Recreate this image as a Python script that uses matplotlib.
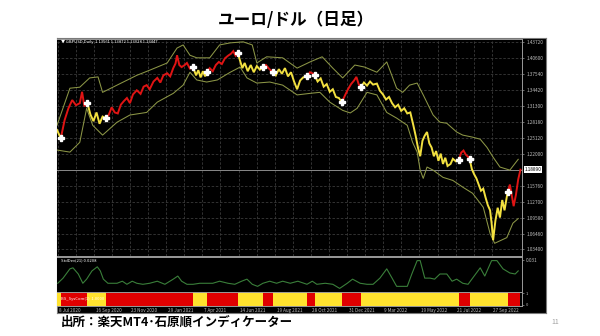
import matplotlib
matplotlib.use('Agg')
import matplotlib.pyplot as plt
import matplotlib.transforms as mtransforms

# ---------------- data ----------------
title = 'ユーロ/ドル（日足）'
source = '出所：楽天MT4･石原順インディケーター'
page_no = '11'
header = '▼ GBPUSD,Daily  1.13561 1.13872 1.13028 1.13447'
ind_label = 'StdDev(21) 0.0208'
sig_label = 'BS_SysCom(1)  1.0000'

bars = [0, 5, 10, 15, 20, 25, 30, 33, 36, 40, 44, 48, 52, 56, 60, 64, 68, 72, 76, 80,
        84, 88, 92, 96, 100, 105, 110, 114, 118, 122, 127, 132, 136, 140, 145, 149, 153,
        156, 158, 161, 164, 168, 171, 175, 179, 183, 186, 189, 192, 195, 197, 201, 205,
        209, 213, 217, 221, 225, 229, 232, 235, 238, 241, 244, 247, 251, 255, 259, 263,
        267, 271, 275, 279, 284, 288, 292, 296, 300, 304, 308, 312, 316, 320, 324, 329,
        333, 336, 339, 343, 347, 351, 355, 359, 363, 367, 371, 375, 379, 383, 387, 391,
        394, 397, 400, 404, 408, 412, 416, 421, 425, 429, 433, 437, 441, 445, 449, 453,
        457, 461, 465, 469, 472, 475, 478, 481, 484, 487, 490, 493, 496, 499, 502, 505,
        508, 511, 514, 518, 521, 525, 529, 532, 535, 538, 541, 543, 546, 549, 552, 555,
        558, 561, 564, 567, 570, 572, 574, 577, 580, 583, 586, 589, 593, 596, 599, 601,
        604, 607, 610]
close = [1.266, 1.250, 1.285, 1.308, 1.324, 1.314, 1.318, 1.340, 1.312, 1.318, 1.296, 1.283,
         1.300, 1.278, 1.292, 1.289, 1.295, 1.310, 1.300, 1.298, 1.315, 1.322, 1.328, 1.318,
         1.335, 1.343, 1.336, 1.350, 1.353, 1.345, 1.360, 1.367, 1.358, 1.372, 1.376, 1.370,
         1.386, 1.395, 1.411, 1.392, 1.388, 1.392, 1.396, 1.385, 1.388, 1.372, 1.382, 1.368,
         1.380, 1.370, 1.378, 1.386, 1.380, 1.392, 1.398, 1.394, 1.405, 1.410, 1.414, 1.419,
         1.410, 1.415, 1.400, 1.386, 1.396, 1.380, 1.392, 1.378, 1.390, 1.383, 1.388, 1.392,
         1.385, 1.378, 1.372, 1.384, 1.375, 1.386, 1.370, 1.378, 1.360, 1.345, 1.362, 1.368,
         1.370, 1.378, 1.376, 1.373, 1.360, 1.366, 1.350, 1.355, 1.340, 1.345, 1.330, 1.328,
         1.320, 1.333, 1.345, 1.355, 1.362, 1.369, 1.355, 1.349, 1.358, 1.352, 1.360, 1.354,
         1.356, 1.342, 1.335, 1.325, 1.330, 1.318, 1.310, 1.315, 1.303, 1.308, 1.298, 1.300,
         1.275, 1.255, 1.232, 1.215, 1.245, 1.255, 1.262, 1.240, 1.232, 1.215, 1.225, 1.206,
         1.220, 1.200, 1.212, 1.196, 1.200, 1.210, 1.205, 1.208, 1.222, 1.226, 1.218, 1.214,
         1.210, 1.190, 1.180, 1.172, 1.160, 1.148, 1.152, 1.135, 1.120, 1.110, 1.085, 1.052,
         1.090, 1.115, 1.096, 1.130, 1.110, 1.145, 1.160, 1.135, 1.118, 1.140, 1.170, 1.1889]

upper_bars = [0, 17, 30, 43, 54, 60, 79, 105, 122, 145, 158, 166, 175, 184, 201, 214, 228,
              245, 257, 263, 276, 297, 316, 333, 349, 363, 376, 392, 405, 421, 434, 447, 455,
              464, 474, 482, 495, 504, 513, 526, 534, 547, 557, 566, 574, 583, 596, 607]
upper = [1.275, 1.347, 1.349, 1.367, 1.369, 1.339, 1.353, 1.372, 1.382, 1.396, 1.425, 1.431,
         1.411, 1.406, 1.406, 1.431, 1.435, 1.437, 1.431, 1.396, 1.408, 1.406, 1.386, 1.398,
         1.408, 1.386, 1.367, 1.392, 1.388, 1.378, 1.398, 1.347, 1.339, 1.353, 1.357, 1.334,
         1.295, 1.281, 1.279, 1.262, 1.256, 1.252, 1.248, 1.232, 1.213, 1.194, 1.188, 1.209]

lower_bars = [0, 17, 30, 39, 47, 60, 79, 96, 118, 132, 153, 166, 175, 184, 197, 211, 228,
              241, 250, 263, 280, 297, 316, 333, 346, 359, 376, 386, 395, 408, 421, 434, 447,
              461, 468, 474, 478, 482, 487, 495, 508, 521, 534, 547, 561, 570, 576, 592, 600, 607]
lower = [1.227, 1.223, 1.242, 1.308, 1.275, 1.256, 1.281, 1.295, 1.300, 1.320, 1.337, 1.353,
         1.378, 1.363, 1.359, 1.363, 1.378, 1.388, 1.367, 1.357, 1.359, 1.353, 1.334, 1.337,
         1.339, 1.320, 1.304, 1.299, 1.308, 1.339, 1.334, 1.300, 1.289, 1.275, 1.242, 1.223,
         1.188, 1.172, 1.194, 1.188, 1.174, 1.168, 1.155, 1.143, 1.116, 1.065, 1.046, 1.057,
         1.085, 1.094]

std_bars = [1, 8, 17, 21, 28, 34, 39, 46, 53, 57, 61, 67, 79, 86, 92, 99, 105, 113, 122, 132,
            142, 153, 159, 164, 171, 179, 188, 197, 205, 214, 225, 234, 243, 250, 257, 264,
            271, 280, 289, 297, 307, 317, 329, 336, 342, 353, 363, 372, 382, 389, 399, 408,
            416, 425, 434, 441, 447, 461, 467, 474, 478, 484, 491, 497, 504, 513, 520, 526,
            534, 541, 547, 557, 563, 572, 579, 587, 596, 603, 607]
stddev = [0.008, 0.013, 0.022, 0.023, 0.017, 0.008, 0.012, 0.020, 0.024, 0.020, 0.012, 0.008,
          0.008, 0.010, 0.007, 0.010, 0.008, 0.007, 0.008, 0.010, 0.007, 0.012, 0.015, 0.010,
          0.007, 0.007, 0.008, 0.008, 0.008, 0.010, 0.008, 0.007, 0.010, 0.012, 0.007, 0.005,
          0.008, 0.010, 0.008, 0.010, 0.008, 0.010, 0.007, 0.010, 0.007, 0.008, 0.007, 0.003,
          0.008, 0.012, 0.008, 0.007, 0.007, 0.013, 0.022, 0.013, 0.005, 0.005, 0.017, 0.030,
          0.030, 0.013, 0.013, 0.012, 0.017, 0.017, 0.010, 0.012, 0.008, 0.007, 0.013, 0.023,
          0.015, 0.030, 0.030, 0.022, 0.018, 0.017, 0.020]

switch_bars = [0, 5, 40, 64, 179, 197, 238, 271, 284, 329, 339, 375, 400, 529, 543, 593, 610]
signal = ['buy_off', 'buy', 'buy_off', 'buy', 'buy_off', 'buy', 'buy_off', 'buy',
          'buy_off', 'buy', 'buy_off', 'buy', 'buy_off', 'buy', 'buy_off', 'buy']

date_bars = [1, 49, 96, 144, 191, 239, 287, 334, 382, 429, 477, 525, 572]
date_labels = ['8 Jul 2020', '16 Sep 2020', '23 Nov 2020', '29 Jan 2021', '7 Apr 2021',
               '14 Jun 2021', '19 Aug 2021', '28 Oct 2021', '31 Dec 2021', '9 Mar 2022',
               '19 May 2022', '21 Jul 2022', '27 Sep 2022']
price_ticks = [1.43720, 1.40600, 1.37540, 1.34420, 1.31300, 1.28180, 1.25120, 1.22000,
               1.15760, 1.12700, 1.09580, 1.06460, 1.03400]
std_tick = 0.031

# ---------------- style ----------------
plt.rcParams['font.family'] = ['Noto Sans CJK JP', 'DejaVu Sans']
COL = {'buy': '#e01414', 'buy_off': '#f2e040'}
BAR_COL = {'buy': '#e00000', 'buy_off': '#ffe22e'}
BAND = '#8c9646'
GRID = '#3a3a3a'
FRAME = '#9a9a9a'
LABEL = '#bdbdbd'

W, H = 600, 336
def box(x0, y0, x1, y1):
    return [x0 / W, 1 - y1 / H, (x1 - x0) / W, (y1 - y0) / H]

fig = plt.figure(figsize=(6, 3.36), dpi=100, facecolor='white')

bg = fig.add_axes(box(57, 38, 546, 313))
bg.set_facecolor('black')
bg.set_xticks([]); bg.set_yticks([])
for s in bg.spines.values():
    s.set_color('#7a7a7a'); s.set_linewidth(0.8)

ax = fig.add_axes(box(57, 38.5, 522, 255.5))
ind = fig.add_axes(box(57, 256.5, 522, 291.5))
sig = fig.add_axes(box(57, 292, 522, 306))

xmin, xmax = 0, 612
for a in (ax, ind, sig):
    a.set_facecolor('black')
    a.set_xlim(xmin, xmax)
    for s in a.spines.values():
        s.set_color(FRAME); s.set_linewidth(0.7)
    a.spines['left'].set_visible(False)

# grid in main panel
mids = [(date_bars[i] + date_bars[i + 1]) / 2 for i in range(len(date_bars) - 1)]
grid_x = [date_bars[0] - (date_bars[1] - date_bars[0]) / 2] + sorted(date_bars + mids)
ax.set_xticks([g for g in grid_x if xmin < g < xmax])
ax.set_xticklabels([])
ax.tick_params(axis='x', length=0)
ax.set_ylim(1.0223, 1.4435)
ax.yaxis.tick_right()
ax.set_yticks(price_ticks)
ax.set_yticklabels([f'{v:.5f}' for v in price_ticks])
ax.tick_params(axis='y', labelsize=3.4, colors=LABEL, length=1.5, width=0.4, pad=1.5)
ax.grid(True, color=GRID, lw=0.6, ls=(0, (3, 2)))
ax.set_axisbelow(True)

# bands
ax.plot(upper_bars, upper, color=BAND, lw=0.75, zorder=2)
ax.plot(lower_bars, lower, color=BAND, lw=0.75, zorder=2)

# current price line
last = close[-1]
ax.axhline(last, color='#8a8a8a', lw=0.7, zorder=1)
ax.text(1.005, last, f'{last:.5f}', transform=mtransforms.blended_transform_factory(ax.transAxes, ax.transData),
        fontsize=3.4, color='black', va='center', ha='left',
        bbox=dict(boxstyle='square,pad=0.15', fc='white', ec='none'), clip_on=False)

# price colored by signal
for i, s in enumerate(signal):
    a0, a1 = switch_bars[i], switch_bars[i + 1]
    xs = [b for b in bars if a0 <= b <= a1]
    ys = [c for b, c in zip(bars, close) if a0 <= b <= a1]
    ax.plot(xs, ys, color=COL[s], lw=1.4, zorder=3, solid_joinstyle='miter')

# arrows at signal changes
arrow_x = switch_bars[1:-1]
arrow_y = [close[bars.index(b)] for b in arrow_x]
ax.plot(arrow_x, arrow_y, ls='none', marker='P', ms=4, mfc='white', mec='white', zorder=4)

ax.text(0.008, 0.995, header, transform=ax.transAxes, fontsize=3, color='white',
        va='top', ha='left')

# indicator panel
ind.plot(std_bars, stddev, color='#3a7f3a', lw=0.8)
ind.set_ylim(0, 0.034)
ind.set_xticks([])
ind.yaxis.tick_right()
ind.set_yticks([std_tick])
ind.set_yticklabels([f'{std_tick:.3f}'])
ind.tick_params(axis='y', labelsize=3.4, colors=LABEL, length=1.5, width=0.4, pad=1.5)
ind.text(0.008, 0.96, ind_label, transform=ind.transAxes, fontsize=3, color='white',
         va='top', ha='left')

# signal bar panel
for i, s in enumerate(signal):
    a0, a1 = switch_bars[i], switch_bars[i + 1]
    sig.broken_barh([(a0, a1 - a0)], (0, 1), facecolors=BAR_COL[s], edgecolor='none')
sig.set_ylim(0, 1)
sig.set_xticks([])
sig.yaxis.tick_right()
sig.set_yticks([0.1, 0.9])
sig.set_yticklabels(['0', '1'])
sig.tick_params(axis='y', labelsize=3, colors=LABEL, length=1.5, width=0.4, pad=1.5)
sig.text(0.008, 0.5, sig_label, transform=sig.transAxes, fontsize=3, color='white',
         va='center', ha='left')

trans = mtransforms.blended_transform_factory(sig.transData, sig.transAxes)
for b, lab in zip(date_bars, date_labels):
    sig.text(b + 2, -0.12, lab, transform=trans, fontsize=3.3, color=LABEL,
             va='top', ha='left', clip_on=False)

fig.text(0.493, 0.941, title, fontsize=12, fontweight='bold', ha='center', va='center',
         color='black')
fig.text(61 / W, 1 - 322 / H, source, fontsize=9, fontweight='bold', ha='left',
         va='center', color='black')
fig.text(551 / W, 1 - 322 / H, page_no, fontsize=5, ha='left', va='center', color='#a0a0a0')

fig.savefig('out.png', dpi=100, facecolor='white')
